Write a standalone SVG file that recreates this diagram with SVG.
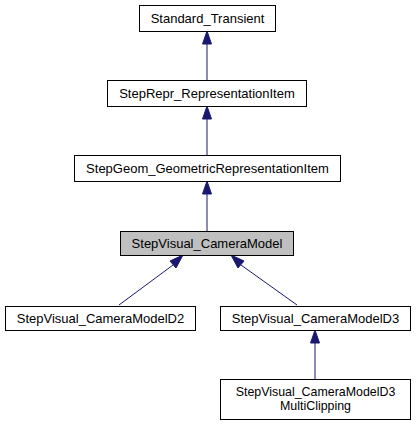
<svg xmlns="http://www.w3.org/2000/svg" width="416" height="425" viewBox="0 0 416 425">
<style>
.n rect{fill:#ffffff;stroke:#000000;stroke-width:1}
.n.h rect{fill:#bfbfbf}
.n text{font-family:"Liberation Sans",Arial,sans-serif;font-size:13px;fill:#000000;text-anchor:middle}
.n text.m{font-size:12.4px}
.e line{stroke:#191970;stroke-width:1}
.e polygon{fill:#191970;stroke:#191970;stroke-width:1}
</style>
<rect width="416" height="425" fill="#ffffff"/>
<g id="connectors" class="e">
<line x1="207" y1="80" x2="207" y2="44"/>
<polygon points="207,31 202.5,44 211.5,44"/>
<line x1="207" y1="155" x2="207" y2="119"/>
<polygon points="207,106 202.5,119 211.5,119"/>
<line x1="207" y1="231" x2="207" y2="194"/>
<polygon points="207,181 202.5,194 211.5,194"/>
<line x1="119" y1="305" x2="173" y2="265"/>
<polygon points="183,255 170,261 176,268"/>
<line x1="297" y1="305" x2="241" y2="265"/>
<polygon points="231,255 238,268 244,261"/>
<line x1="315" y1="379" x2="315" y2="343"/>
<polygon points="315,330 310.5,343 319.5,343"/>
</g>
<g id="node1" class="n">
<rect x="139.5" y="5.5" width="136" height="26"/>
<text x="207.5" y="23">Standard_Transient</text>
</g>
<g id="node2" class="n">
<rect x="107.5" y="80.5" width="199" height="26"/>
<text x="207" y="98">StepRepr_RepresentationItem</text>
</g>
<g id="node3" class="n">
<rect x="74.5" y="155.5" width="266" height="26"/>
<text x="207.5" y="173">StepGeom_GeometricRepresentationItem</text>
</g>
<g id="node4" class="n h">
<rect x="120.5" y="231.5" width="173" height="24"/>
<text x="207" y="248">StepVisual_CameraModel</text>
</g>
<g id="node5" class="n">
<rect x="5.5" y="306.5" width="190" height="24"/>
<text x="100.5" y="323">StepVisual_CameraModelD2</text>
</g>
<g id="node6" class="n">
<rect x="220.5" y="306.5" width="190" height="24"/>
<text x="315.5" y="323">StepVisual_CameraModelD3</text>
</g>
<g id="node7" class="n">
<rect x="220.5" y="379.5" width="190" height="40"/>
<text class="m" x="315.5" y="396">StepVisual_CameraModelD3</text>
<text class="m" x="315.5" y="409.5">MultiClipping</text>
</g>
</svg>
